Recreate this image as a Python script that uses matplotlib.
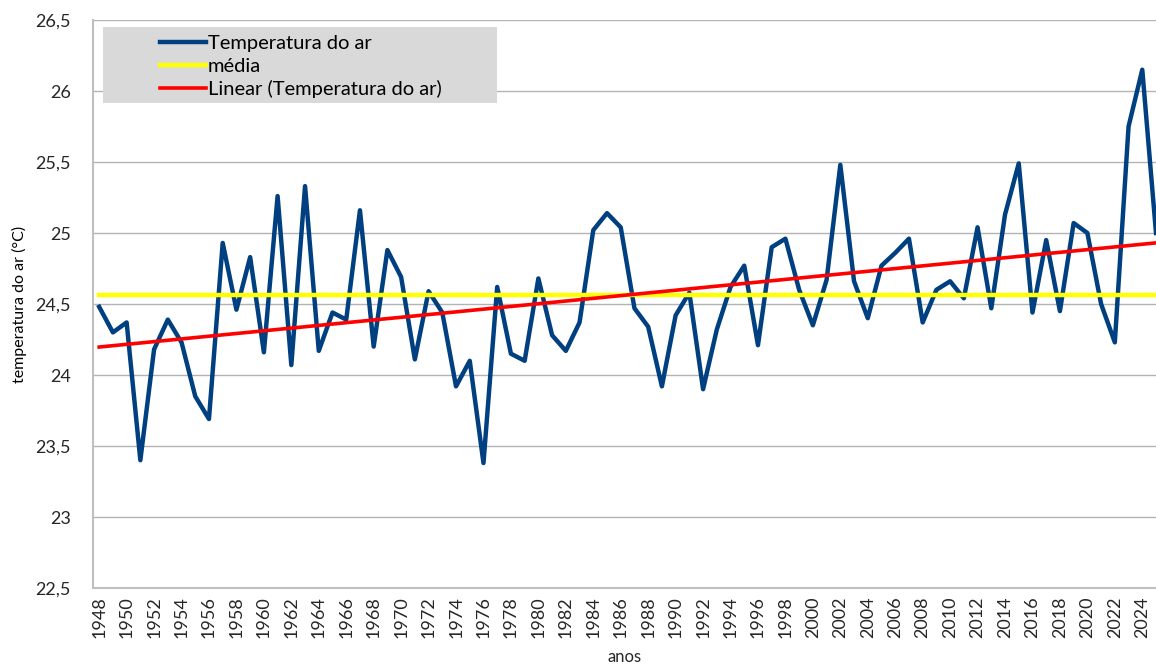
import matplotlib.pyplot as plt
from matplotlib.patches import Rectangle
from matplotlib.ticker import FuncFormatter
import numpy as np

# annual mean air temperature
anos = list(range(1948, 2026))
temperatura = [
    24.48, 24.30, 24.37, 23.40, 24.18, 24.39, 24.23, 23.85, 23.69, 24.93,  # 1948-1957
    24.46, 24.83, 24.16, 25.26, 24.07, 25.33, 24.17, 24.44, 24.39, 25.16,  # 1958-1967
    24.20, 24.88, 24.69, 24.11, 24.59, 24.44, 23.92, 24.10, 23.38, 24.62,  # 1968-1977
    24.15, 24.10, 24.68, 24.28, 24.17, 24.37, 25.02, 25.14, 25.04, 24.47,  # 1978-1987
    24.34, 23.92, 24.42, 24.58, 23.90, 24.32, 24.62, 24.77, 24.21, 24.90,  # 1988-1997
    24.96, 24.60, 24.35, 24.67, 25.48, 24.66, 24.40, 24.77, 24.86, 24.96,  # 1998-2007
    24.37, 24.60, 24.66, 24.54, 25.04, 24.47, 25.13, 25.49, 24.44, 24.95,  # 2008-2017
    24.45, 25.07, 25.00, 24.50, 24.23, 25.75, 26.15, 25.00,                # 2018-2025
]
serie_nomes = ["Temperatura do ar", "média", "Linear (Temperatura do ar)"]
y_ticks = [22.5, 23, 23.5, 24, 24.5, 25, 25.5, 26, 26.5]
x_ticks = list(range(1948, 2025, 2))

plt.rcParams['font.family'] = ['Lato', 'DejaVu Sans']

x = np.array(anos)
y = np.array(temperatura)
media = np.full_like(y, y.mean())
coef = np.polyfit(x, y, 1)
tendencia = np.polyval(coef, x)

fig = plt.figure(figsize=(11.56, 6.71), dpi=100)
ax = fig.add_axes([93/1156, 1 - 588/671, 1 - 93/1156, (588 - 20)/671])

ax.plot(x, y, color='#004080', lw=3.2, label=serie_nomes[0], zorder=3)
ax.plot(x, media, color='#ffff00', lw=3.2, label=serie_nomes[1], zorder=4)
ax.plot(x, tendencia, color='#ff0000', lw=2.6, label=serie_nomes[2], zorder=5)

ax.set_xlim(1947.55, 2025.0)
ax.set_ylim(22.5, 26.5)
ax.set_yticks(y_ticks)
ax.yaxis.set_major_formatter(FuncFormatter(lambda v, p: ('%g' % v).replace('.', ',')))
ax.set_xticks(x_ticks)
ax.set_xticklabels([str(a) for a in x_ticks], rotation=90)
ax.tick_params(axis='both', length=0, labelsize=13, colors='#262626')
ax.tick_params(axis='y', pad=16)
ax.tick_params(axis='x', pad=6)

ax.grid(axis='y', color='#b3b3b3', lw=1)
ax.set_axisbelow(True)
for s in ['top', 'right']:
    ax.spines[s].set_visible(False)
for s in ['left', 'bottom']:
    ax.spines[s].set_color('#bfbfbf')
    ax.spines[s].set_linewidth(1.5)

ax.set_xlabel('anos', fontsize=12, color='#262626', labelpad=8)
ax.set_ylabel('temperatura do ar (°C)', fontsize=11.5, color='#000000', labelpad=6)

# grey legend box as in the original spreadsheet chart
ax.add_patch(Rectangle((0.0094, 0.854), 0.371, 0.134, transform=ax.transAxes,
                       facecolor='#d9d9d9', edgecolor='none', zorder=6))
leg = ax.legend(loc='upper left', bbox_to_anchor=(0.052, 0.995), frameon=False,
                fontsize=14.5, handlelength=2.25, handletextpad=0.1,
                labelspacing=0.28, borderaxespad=0.2)
leg.set_zorder(7)

fig.savefig('out.png', dpi=100)
